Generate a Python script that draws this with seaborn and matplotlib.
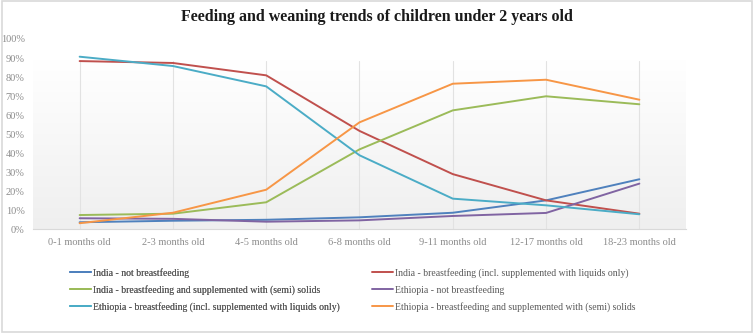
import numpy as np
import pandas as pd
import matplotlib
matplotlib.use("Agg")
import matplotlib.pyplot as plt
import seaborn as sns
from matplotlib.lines import Line2D
from matplotlib.patches import Rectangle

categories = ["0-1 months old", "2-3 months old", "4-5 months old", "6-8 months old",
              "9-11 months old", "12-17 months old", "18-23 months old"]

india_not_bf = [3.7, 4.5, 5.0, 6.3, 8.7, 15.2, 26.3]
india_bf_liquids = [88.4, 87.4, 80.9, 51.7, 29.0, 15.2, 8.2]
india_bf_solids = [7.5, 8.2, 14.2, 42.0, 62.5, 69.9, 65.7]
ethiopia_not_bf = [5.8, 5.5, 4.0, 4.7, 7.0, 8.6, 24.0]
ethiopia_bf_liquids = [90.7, 85.8, 75.1, 38.9, 16.1, 12.6, 7.9]
ethiopia_bf_solids = [3.2, 8.7, 20.8, 56.2, 76.5, 78.6, 68.1]

series_names = [
    "India - not breastfeeding",
    "India - breastfeeding (incl. supplemented with liquids only)",
    "India - breastfeeding and supplemented with (semi) solids",
    "Ethiopia - not breastfeeding",
    "Ethiopia - breastfeeding (incl. supplemented with liquids only)",
    "Ethiopia - breastfeeding and supplemented with (semi) solids",
]
series_values = [india_not_bf, india_bf_liquids, india_bf_solids,
                 ethiopia_not_bf, ethiopia_bf_liquids, ethiopia_bf_solids]
colors = ["#4F81BD", "#C0504D", "#9BBB59", "#8064A2", "#4BACC6", "#F79646"]

rows = []
for name, vals in zip(series_names, series_values):
    for c, v in zip(categories, vals):
        rows.append({"age": c, "value": v / 100.0, "series": name})
df = pd.DataFrame(rows)

sns.set_style("white")
serif = ["Liberation Serif", "DejaVu Serif"]
plt.rcParams["font.family"] = serif

fig = plt.figure(figsize=(7.54, 3.33), dpi=100)
fig.patches.append(Rectangle((0.002, 0.003), 0.996, 0.994, transform=fig.transFigure,
                             fill=False, edgecolor="#d9d9d9", linewidth=1.2))
ax = fig.add_axes([33 / 754, 1 - 229.3 / 333, (686 - 33) / 754, (229.3 - 39) / 333])

ax.set_xlim(-0.5, 6.5)
ax.set_ylim(0, 1.0)

# gradient plot-area background
top_frac = 0.884
grad = np.linspace(0, 1, 256).reshape(-1, 1)
cmap = matplotlib.colors.LinearSegmentedColormap.from_list("g", ["#efefef", "#ffffff"])
ax.imshow(grad, cmap=cmap, aspect="auto", origin="lower",
          extent=(-0.5, 6.5, 0, top_frac), zorder=0)

for i in range(len(categories)):
    ax.plot([i, i], [0, top_frac], color="#e2e2e2", linewidth=0.8, zorder=1)

sns.lineplot(data=df, x="age", y="value", hue="series", hue_order=series_names,
             palette=colors, sort=False, linewidth=1.4, ax=ax, legend=False, zorder=3)

ax.set_xlim(-0.5, 6.5)
ax.set_ylim(0, 1.0)
ax.set_yticks(np.arange(0, 1.01, 0.1))
ax.set_yticklabels([f"{int(round(t*100))}%" for t in np.arange(0, 1.01, 0.1)])
ax.set_xticks(range(len(categories)))
ax.set_xticklabels(categories)
ax.tick_params(axis="both", length=0, labelsize=7.5, colors="#8c8c8c")
ax.tick_params(axis="y", pad=6)
ax.tick_params(axis="x", pad=6)
ax.set_xlabel("")
ax.set_ylabel("")
for s in ["top", "right", "left"]:
    ax.spines[s].set_visible(False)
ax.spines["bottom"].set_color("#d9d9d9")
ax.spines["bottom"].set_linewidth(0.8)
ax.set_facecolor("none")

fig.text(0.5, 1 - 17 / 333, "Feeding and weaning trends of children under 2 years old",
         ha="center", va="center", fontsize=11.5, fontweight="bold", color="#1a1a1a")

def make_legend(idx, x, y):
    handles = [Line2D([], [], color=colors[i], linewidth=1.4) for i in idx]
    labels = [series_names[i] for i in idx]
    leg = fig.legend(handles, labels, loc="upper left", bbox_to_anchor=(x, y),
                     bbox_transform=fig.transFigure, frameon=False, fontsize=7,
                     handlelength=2.2, handletextpad=0.15, labelspacing=0.72,
                     borderaxespad=0, borderpad=0)
    for t in leg.get_texts():
        t.set_color("#595959")
    return leg

leg1 = make_legend([0, 2, 4], 70 / 754, 1 - 268 / 333)
fig.add_artist(leg1)
make_legend([1, 3, 5], 372 / 754, 1 - 268 / 333)

fig.savefig("out.png", dpi=100)
